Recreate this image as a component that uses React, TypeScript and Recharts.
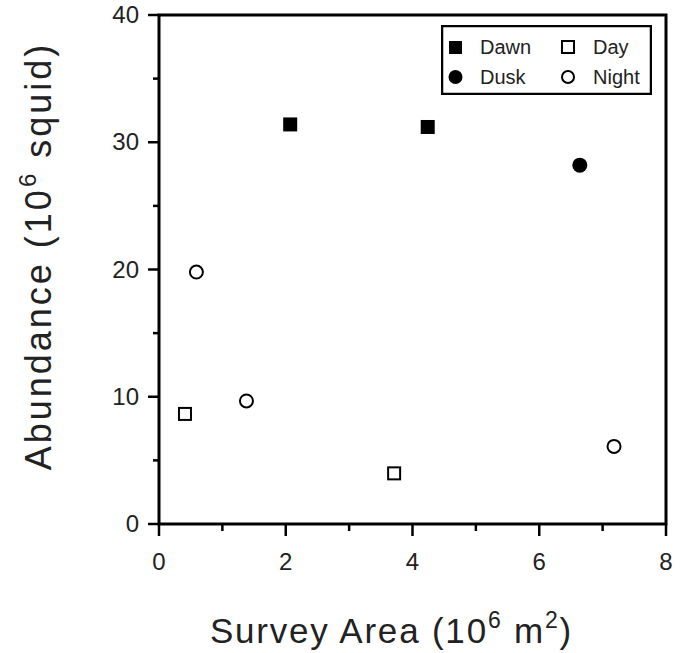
import React from 'react';
import {
  ScatterChart, Scatter, XAxis, YAxis, ReferenceArea,
} from 'recharts';

// values
const dawnX = [2.07, 4.24];
const dawnY = [31.4, 31.2];
const duskX = [6.64];
const duskY = [28.2];
const dayX = [0.41, 3.71];
const dayY = [8.65, 3.98];
const nightX = [0.59, 1.38, 7.18];
const nightY = [19.8, 9.67, 6.1];

const xTicks = [0, 1, 2, 3, 4, 5, 6, 7, 8];
const yTicks = [0, 5, 10, 15, 20, 25, 30, 35, 40];

const FONT = '"Liberation Sans", Arial, Helvetica, sans-serif';

if (typeof document !== 'undefined') document.body.style.margin = '0';

const toPoints = (xs: number[], ys: number[]) => xs.map((x, i) => ({ x, y: ys[i] }));

const filledSquare = (p: any) => <rect x={p.cx - 7} y={p.cy - 7} width={14} height={14} fill="#000" />;
const openSquare = (p: any) => (
  <rect x={p.cx - 6} y={p.cy - 6} width={12} height={12} fill="#fff" stroke="#000" strokeWidth={2} />
);
const filledCircle = (p: any) => <circle cx={p.cx} cy={p.cy} r={7.5} fill="#000" />;
const openCircle = (p: any) => <circle cx={p.cx} cy={p.cy} r={6.5} fill="#fff" stroke="#000" strokeWidth={2} />;

const XTick = ({ x, y, payload }: any) => {
  const major = payload.value % 2 === 0;
  return (
    <g>
      <line x1={x} y1={y} x2={x} y2={y + (major ? 12 : 7)} stroke="#000" strokeWidth={2.5} />
      {major && (
        <text x={x} y={y + 46} textAnchor="middle" fontSize={24} fontFamily={FONT} fill="#222">
          {payload.value}
        </text>
      )}
    </g>
  );
};

const YTick = ({ x, y, payload }: any) => {
  const major = payload.value % 10 === 0;
  return (
    <g>
      <line x1={x - (major ? 11 : 6)} y1={y} x2={x} y2={y} stroke="#000" strokeWidth={2.5} />
      {major && (
        <text x={x - 20} y={y + 8} textAnchor="end" fontSize={24} fontFamily={FONT} fill="#222">
          {payload.value}
        </text>
      )}
    </g>
  );
};

const XLabel = ({ viewBox }: any) => (
  <text x={viewBox.x + viewBox.width / 2 - 21} y={viewBox.y + 119} textAnchor="middle"
        fontSize={35} fontFamily={FONT} fill="#222" letterSpacing={1.8}>
    <tspan>Survey Area (10</tspan>
    <tspan fontSize={23} dy={-15}>6</tspan>
    <tspan dy={15}> m</tspan>
    <tspan fontSize={23} dy={-15}>2</tspan>
    <tspan dy={15}>)</tspan>
  </text>
);

const YLabel = () => {
  const cx = 51;
  const cy = 256;
  return (
    <text x={cx} y={cy} transform={`rotate(-90, ${cx}, ${cy})`} textAnchor="middle"
          fontSize={36} fontFamily={FONT} fill="#222" letterSpacing={3}>
      <tspan>Abundance (10</tspan>
      <tspan fontSize={24} dy={-15}>6</tspan>
      <tspan dy={15}> squid)</tspan>
    </text>
  );
};

const LegendBox = () => (
  <svg width={211} height={70} style={{ position: 'absolute', left: 441, top: 25 }}>
    <rect x={1} y={1} width={209} height={68} fill="#fff" stroke="#000" strokeWidth={2.5} />
    <rect x={8} y={16} width={13} height={13} fill="#000" />
    <circle cx={14.5} cy={52} r={7} fill="#000" />
    <rect x={121} y={16} width={12} height={12} fill="#fff" stroke="#000" strokeWidth={2} />
    <circle cx={127} cy={52} r={6} fill="#fff" stroke="#000" strokeWidth={2} />
    <g fontSize={20} fontFamily={FONT} fill="#222">
      <text x={39} y={29}>Dawn</text>
      <text x={39} y={59}>Dusk</text>
      <text x={152} y={29}>Day</text>
      <text x={152} y={59}>Night</text>
    </g>
  </svg>
);

export default function App() {
  return (
    <div style={{ position: 'relative', width: 683, height: 653 }}>
      <ScatterChart width={683} height={653} margin={{ top: 15, right: 17, left: 0, bottom: 0 }}>
        <XAxis type="number" dataKey="x" domain={[0, 8]} ticks={xTicks} interval={0}
               axisLine={false} tickLine={false} tickSize={0} tickMargin={0}
               tick={<XTick />} height={129} label={<XLabel />} />
        <YAxis type="number" dataKey="y" domain={[0, 40]} ticks={yTicks} interval={0}
               axisLine={false} tickLine={false} tickSize={0} tickMargin={0}
               tick={<YTick />} width={159} label={<YLabel />} />
        <ReferenceArea x1={0} x2={8} y1={0} y2={40} fill="none" stroke="#000" strokeWidth={3} />
        <Scatter name="Dawn" data={toPoints(dawnX, dawnY)} shape={filledSquare} isAnimationActive={false} />
        <Scatter name="Dusk" data={toPoints(duskX, duskY)} shape={filledCircle} isAnimationActive={false} />
        <Scatter name="Day" data={toPoints(dayX, dayY)} shape={openSquare} isAnimationActive={false} />
        <Scatter name="Night" data={toPoints(nightX, nightY)} shape={openCircle} isAnimationActive={false} />
      </ScatterChart>
      <LegendBox />
    </div>
  );
}
